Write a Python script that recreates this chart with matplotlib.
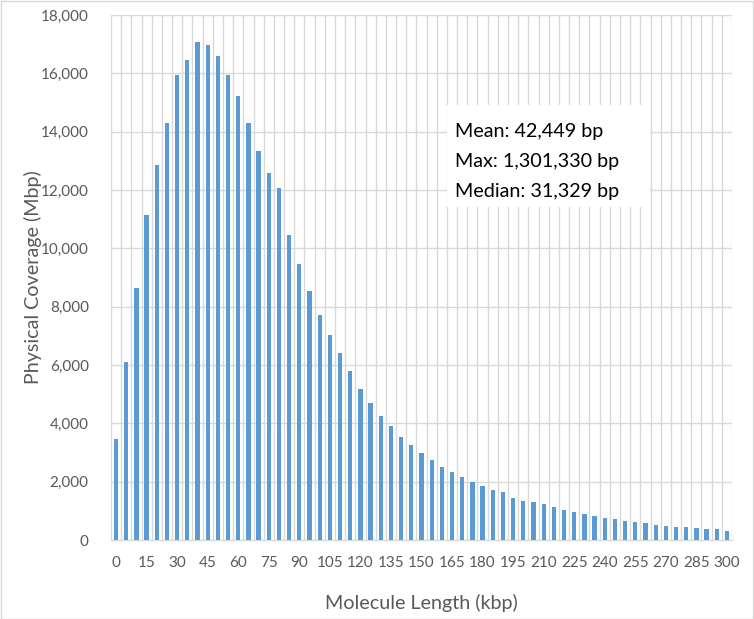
import matplotlib
matplotlib.use("Agg")
import matplotlib.pyplot as plt
import numpy as np
from matplotlib.ticker import FuncFormatter, FixedLocator
from matplotlib.patches import Rectangle

plt.rcParams['font.family'] = ['Lato', 'DejaVu Sans']

lengths_kbp = list(range(0, 301, 5))
coverage_mbp = [
    3460, 6090, 8650, 11130, 12870, 14290, 15950, 16470, 17070, 16960,
    16590, 15950, 15210, 14290, 13350, 12580, 12060, 10460, 9460, 8530,
    7715, 7020, 6415, 5785, 5190, 4710, 4260, 3918, 3528, 3253,
    3000, 2738, 2520, 2325, 2153, 1993, 1856, 1707, 1630, 1446,
    1333, 1299, 1230, 1115, 1034, 954, 885, 816, 747, 713,
    667, 632, 586, 517, 483, 448, 448, 414, 368, 368,
    299,
]
tick_labels = [str(v) for v in lengths_kbp[::3]]
stats_lines = ["Mean: 42,449 bp", "Max: 1,301,330 bp", "Median: 31,329 bp"]

W, H = 754, 619
fig = plt.figure(figsize=(W / 100, H / 100), dpi=100)
ax = fig.add_axes([111 / W, 1 - 540 / H, (732 - 111) / W, (540 - 15) / H])

gray_text = '#595959'
grid_c = '#D9D9D9'

idx = np.arange(len(lengths_kbp))
ax.bar(idx, coverage_mbp, width=0.42, color='#5B9BD5', zorder=3)

ax.set_xlim(-0.5, len(lengths_kbp) - 0.5)
ax.set_ylim(0, 18000)
ax.set_yticks(np.arange(0, 18001, 2000))
ax.yaxis.set_major_formatter(FuncFormatter(lambda v, p: f"{int(v):,}"))
ax.set_xticks(idx[::3])
ax.set_xticklabels(tick_labels)
ax.xaxis.set_minor_locator(FixedLocator(np.arange(-0.5, len(lengths_kbp), 1.0)))

ax.grid(axis='y', which='major', color=grid_c, linewidth=1.0, zorder=0)
ax.grid(axis='x', which='minor', color=grid_c, linewidth=1.0, zorder=0)
ax.grid(axis='x', which='major', visible=False)

for s in ['top', 'right', 'left']:
    ax.spines[s].set_visible(False)
ax.spines['bottom'].set_color(grid_c)
ax.spines['bottom'].set_linewidth(1.0)

ax.tick_params(axis='both', which='both', length=0, colors=gray_text, labelsize=11)
ax.tick_params(axis='x', pad=11.5)
ax.tick_params(axis='y', pad=16)

ax.set_xlabel('Molecule Length (kbp)', fontsize=14.2, color=gray_text, labelpad=17)
ax.set_ylabel('Physical Coverage (Mbp)', fontsize=14.2, color=gray_text)
ax.yaxis.set_label_coords((42 - 111) / 621, 0.5)

# stats box
fig.patches.append(Rectangle((447 / W, 1 - 207 / H), 203 / W, 102 / H,
                             transform=fig.transFigure, facecolor='white',
                             edgecolor='none', zorder=5))
for i, line in enumerate(stats_lines):
    fig.text(455 / W, 1 - (131 + 30 * i) / H, line, fontsize=14.2, color='black',
             va='center', ha='left', zorder=6)

# outer chart border
fig.patches.append(Rectangle((0.5 / W, 0.5 / H), (W - 1.5) / W, (H - 1.5) / H,
                             transform=fig.transFigure, facecolor='none',
                             edgecolor=grid_c, linewidth=1.0, zorder=10))

fig.savefig('out.png', dpi=100)
